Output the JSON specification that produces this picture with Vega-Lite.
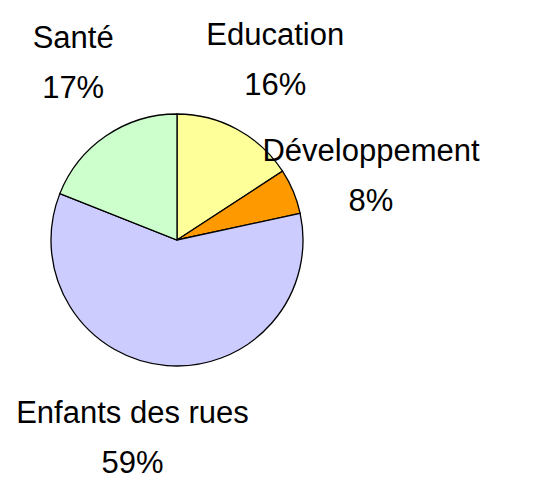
{
  "$schema": "https://vega.github.io/schema/vega-lite/v6.json",
  "width": 354,
  "height": 480,
  "autosize": "none",
  "padding": {"left": 0, "top": 0, "right": 203, "bottom": 1},
  "background": "white",
  "config": {"view": {"stroke": null}},
  "data": {
    "values": [
      {"rank": 1, "cat": "Education", "share": 15.8, "pct": 16, "label": "Education\n16%"},
      {"rank": 2, "cat": "Développement", "share": 5.8, "pct": 8, "label": "Développement\n8%"},
      {"rank": 3, "cat": "Enfants des rues", "share": 59.4, "pct": 59, "label": "Enfants des rues\n59%"},
      {"rank": 4, "cat": "Santé", "share": 19.0, "pct": 17, "label": "Santé\n17%"}
    ]
  },
  "layer": [
    {
      "mark": {"type": "arc", "outerRadius": 126, "stroke": "black", "strokeWidth": 1.3},
      "encoding": {
        "theta": {"field": "share", "type": "quantitative", "stack": true},
        "order": {"field": "rank", "type": "quantitative"},
        "color": {
          "field": "cat",
          "type": "nominal",
          "scale": {
            "domain": ["Education", "Développement", "Enfants des rues", "Santé"],
            "range": ["#FFFF99", "#FF9900", "#CCCCFF", "#CCFFCC"]
          },
          "legend": null
        }
      }
    },
    {
      "mark": {
        "type": "text",
        "radius": 204,
        "dy": -25,
        "font": "Liberation Sans",
        "fontSize": 31,
        "lineBreak": "\n",
        "lineHeight": 50,
        "align": "center",
        "baseline": "middle",
        "color": "black"
      },
      "encoding": {
        "theta": {"field": "pct", "type": "quantitative", "stack": true},
        "order": {"field": "rank", "type": "quantitative"},
        "text": {"field": "label", "type": "nominal"}
      }
    }
  ]
}
